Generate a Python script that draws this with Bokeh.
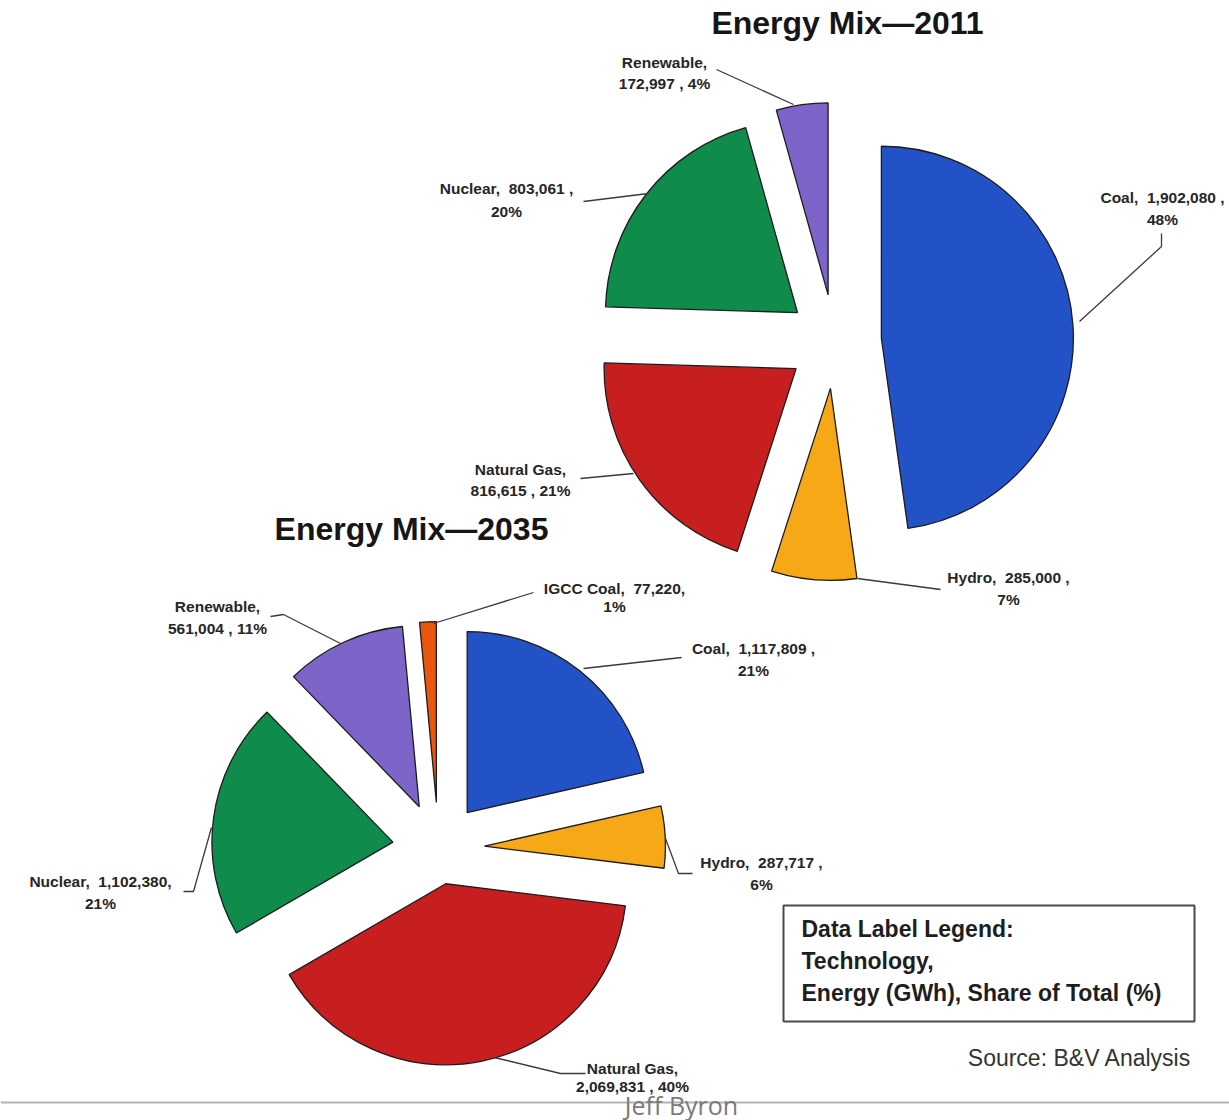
import math

from bokeh.core.properties import value
from bokeh.embed import file_html
from bokeh.models import ColumnDataSource, Range1d
from bokeh.plotting import figure
from bokeh.resources import INLINE

W, H = 1229, 1120

# ---- data -------------------------------------------------------------
tech_2011 = ["Coal", "Hydro", "Natural Gas", "Nuclear", "Renewable"]
gwh_2011 = [1902080, 285000, 816615, 803061, 172997]
pct_2011 = [48, 7, 21, 20, 4]

tech_2035 = ["Coal", "Hydro", "Natural Gas", "Nuclear", "Renewable", "IGCC Coal"]
gwh_2035 = [1117809, 287717, 2069831, 1102380, 561004, 77220]
pct_2035 = [21, 6, 40, 21, 11, 1]

titles = ["Energy Mix\u20142011", "Energy Mix\u20142035"]
legend_lines = ["Data Label Legend:", "Technology,", "Energy (GWh), Share of Total (%)"]
source_note = "Source: B&V Analysis"
author = "Jeff Byron"

# ---- styling ----------------------------------------------------------
colors = {
    "Coal": "#2352c6",
    "Hydro": "#f6a817",
    "Natural Gas": "#c71f1f",
    "Nuclear": "#0f8c4b",
    "Renewable": "#7c64c9",
    "IGCC Coal": "#e9570f",
}
FONT = value("Liberation Sans")
GAP = "\u00a0 "  # wide gap between name and amount on one line


def sy(y):
    """screen-style y (from top) -> plot y (from bottom)"""
    return H - y


# pie placement: centre (from top-left), radius, explode distance per slice
pie_2011 = dict(cx=834, cy=341, r=192, explode=[47, 47, 47, 47, 47])
pie_2035 = dict(cx=438, cy=848, r=181, explode=[46, 46, 36, 46, 46, 46])

# data-label placement: first-line centre, line gap, where the line breaks,
# trailing comma style and the leader line path
labels_2011 = {
    "Coal": dict(x=1162, y=197, gap=22, brk="pct", tight=False, lead=[(1079, 321), (1161, 246), (1161, 233)]),
    "Hydro": dict(x=1008, y=577, gap=22, brk="pct", tight=False, lead=[(857, 578), (940, 589)]),
    "Natural Gas": dict(x=520, y=469, gap=21, brk="name", tight=False, lead=[(580, 478), (633, 473)]),
    "Nuclear": dict(x=506, y=188, gap=23, brk="pct", tight=False, lead=[(583, 201), (648, 193)]),
    "Renewable": dict(x=664, y=62, gap=21, brk="name", tight=False, lead=[(716, 69), (793, 104)]),
}
labels_2035 = {
    "Coal": dict(x=753, y=648, gap=22, brk="pct", tight=False, lead=[(583, 668), (681, 657)]),
    "Hydro": dict(x=761, y=862, gap=22, brk="pct", tight=False, lead=[(665, 838), (678, 873), (692, 873)]),
    "Natural Gas": dict(x=632, y=1068, gap=18, brk="name", tight=False, lead=[(494, 1057), (560, 1073), (585, 1073)]),
    "Nuclear": dict(x=100, y=881, gap=22, brk="pct", tight=True, lead=[(183, 891), (193, 891), (211, 827)]),
    "Renewable": dict(x=217, y=606, gap=22, brk="name", tight=False, lead=[(270, 616), (283, 614), (340, 643)]),
    "IGCC Coal": dict(x=614, y=588, gap=18, brk="pct", tight=True, lead=[(433, 623), (533, 592)]),
}

p = figure(
    width=W, height=H,
    x_range=Range1d(0, W), y_range=Range1d(0, H),
    x_axis_type=None, y_axis_type=None,
    min_border=0, toolbar_location=None, outline_line_color=None,
    background_fill_color="white", border_fill_color="white",
    output_backend="svg",
)


def draw_pie(techs, gwh, pcts, pie, labels):
    total = float(sum(gwh))
    cum = 0.0
    wedges = dict(x=[], y=[], start=[], end=[], color=[])
    l1 = dict(x=[], y=[], text=[])
    l2 = dict(x=[], y=[], text=[])
    lead_xs, lead_ys = [], []
    for tech, v, pc, d in zip(techs, gwh, pcts, pie["explode"]):
        t1 = cum / total * 2 * math.pi
        cum += v
        t2 = cum / total * 2 * math.pi
        # slices run clockwise from 12 o'clock; bokeh angles are anticlockwise from +x
        a_mid = math.pi / 2 - (t1 + t2) / 2
        wedges["x"].append(pie["cx"] + d * math.cos(a_mid))
        wedges["y"].append(sy(pie["cy"]) + d * math.sin(a_mid))
        wedges["start"].append(math.pi / 2 - t2)
        wedges["end"].append(math.pi / 2 - t1)
        wedges["color"].append(colors[tech])

        lab = labels[tech]
        amount = f"{v:,}"
        if lab["brk"] == "name":
            first, second = f"{tech},", f"{amount} , {pc}%"
        else:
            tail = "," if lab["tight"] else " ,"
            first, second = f"{tech},{GAP}{amount}{tail}", f"{pc}%"
        l1["x"].append(lab["x"]); l1["y"].append(sy(lab["y"])); l1["text"].append(first)
        l2["x"].append(lab["x"]); l2["y"].append(sy(lab["y"] + lab["gap"])); l2["text"].append(second)
        lead_xs.append([pt[0] for pt in lab["lead"]])
        lead_ys.append([sy(pt[1]) for pt in lab["lead"]])

    p.wedge(x="x", y="y", radius=pie["r"], start_angle="start", end_angle="end",
            fill_color="color", line_color="#1c1c1c", line_width=1.3,
            source=ColumnDataSource(wedges))
    p.multi_line(xs=lead_xs, ys=lead_ys, line_color="#3a3a3a", line_width=1.3)
    for src in (l1, l2):
        p.text(x="x", y="y", text="text", source=ColumnDataSource(src),
               text_font=FONT, text_font_style="bold", text_font_size="15.5px",
               text_color="#262626", text_align="center", text_baseline="middle")


draw_pie(tech_2011, gwh_2011, pct_2011, pie_2011, labels_2011)
draw_pie(tech_2035, gwh_2035, pct_2035, pie_2035, labels_2035)

# chart titles
p.text(x=[847, 411], y=[sy(22), sy(528)], text=titles,
       text_font=FONT, text_font_style="bold", text_font_size="32px",
       text_color="#161616", text_align="center", text_baseline="middle")

# data-label legend box
p.quad(left=[783], right=[1194], top=[sy(905)], bottom=[sy(1021)],
       fill_color="white", line_color="#4a4a4a", line_width=2)
p.text(x=[801, 801, 801], y=[sy(928), sy(960), sy(992)], text=legend_lines,
       text_font=FONT, text_font_style="bold", text_font_size="23px",
       text_color="#1e1e1e", text_align="left", text_baseline="middle")

# source note
p.text(x=[1191], y=[sy(1057)], text=[source_note],
       text_font=FONT, text_font_size="23px", text_color="#333333",
       text_align="right", text_baseline="middle")

# footer rule and author
p.segment(x0=[0], y0=[sy(1102)], x1=[W], y1=[sy(1102)], line_color="#b4b4b4", line_width=2)
p.text(x=[681], y=[sy(1104)], text=[author],
       text_font=value("Open Sans"), text_font_size="25px", text_color="#7a7a7a",
       text_align="center", text_baseline="middle")

open("out.html", "w").write(file_html(p, INLINE))
